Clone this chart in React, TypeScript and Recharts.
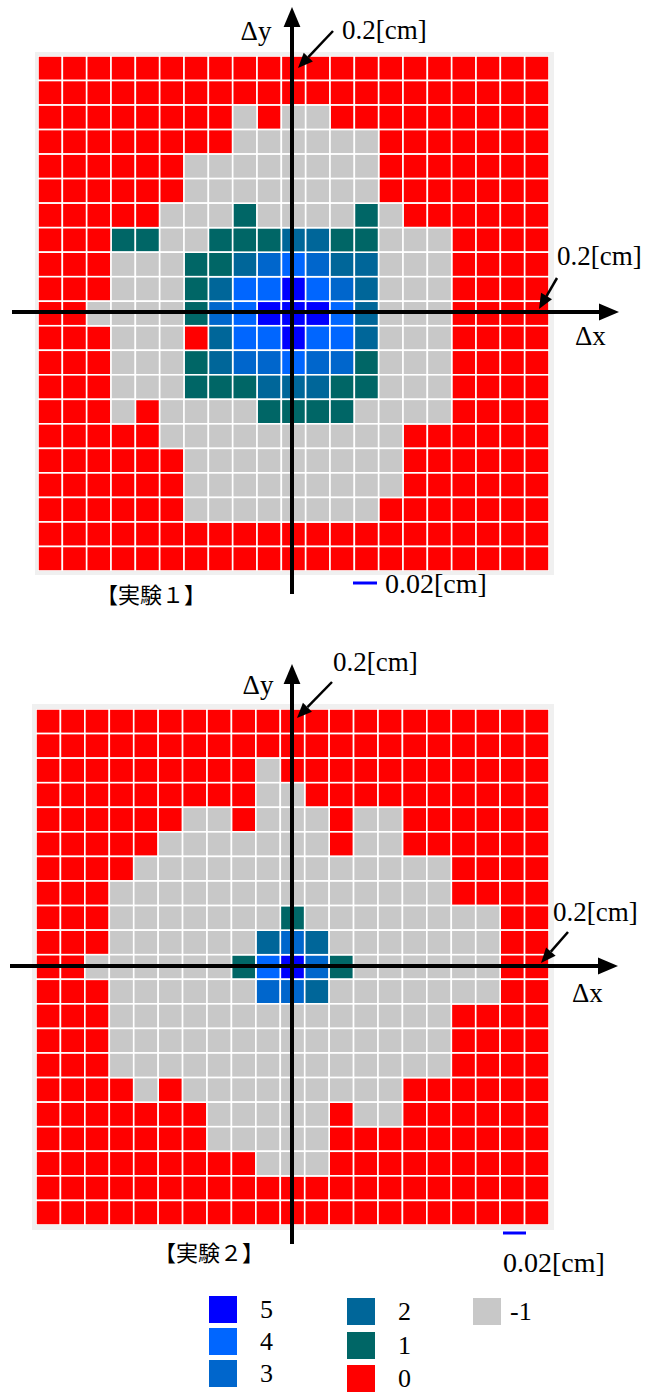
import React from 'react';
import { ScatterChart, Scatter, XAxis, YAxis } from 'recharts';

// value levels and their colours (legend order)
const LEVELS = [5, 4, 3, 2, 1, 0, -1];
const LEVEL_COLORS = ['#0000ff', '#0066ff', '#0066cc', '#006699', '#006666', '#ff0000', '#c8c8c8'];

// one string per grid row (top to bottom), one char per column; '-' means -1
const EXP1_ROWS = [
  '000000000000000000000',
  '000000000000000000000',
  '00000000-0--000000000',
  '00000000------0000000',
  '000000--------0000000',
  '000000--------0000000',
  '00000---1----1-000000',
  '00011--1112211---0000',
  '000---11234322---0000',
  '000---12445432---0000',
  '00----13455542---0000',
  '000---02445442---0000',
  '000---12334331---0000',
  '000---11122211---0000',
  '000-0----1111----0000',
  '00000----------000000',
  '000000---------000000',
  '000000---------000000',
  '000000--------0000000',
  '000000000000000000000',
  '000000000000000000000',
];

const EXP2_ROWS = [
  '000000000000000000000',
  '000000000000000000000',
  '000000000-00000000000',
  '000000000--0000000000',
  '000000--0---0--000000',
  '00000-------0--000000',
  '0000-------------0000',
  '000--------------0000',
  '000-------1--------00',
  '000------232-------00',
  '00------14531------00',
  '000------332-------00',
  '000--------------0000',
  '000--------------0000',
  '000--------------0000',
  '0000-0---------000000',
  '0000000-----0--000000',
  '0000000-----000000000',
  '000000000---000000000',
  '000000000000000000000',
  '000000000000000000000',
];

const SERIF = '"Liberation Serif", "Times New Roman", serif';
const CJK = '"Noto Sans CJK JP", sans-serif';

const toCells = (rows: string[]) =>
  rows.flatMap((row, y) =>
    row.split('').map((ch, x) => ({ x, y, v: ch === '-' ? -1 : Number(ch) }))
  );

interface PanelProps {
  rows: string[];
  top: number;
  height: number;
  margin: { top: number; right: number; bottom: number; left: number };
}

const GridPanel = ({ rows, top, height, margin }: PanelProps) => {
  const cells = toCells(rows);
  const nx = rows[0].length;
  const ny = rows.length;
  const cw = (652 - margin.left - margin.right) / nx;
  const chh = (height - margin.top - margin.bottom) / ny;
  const CellShape = (p: any) => (
    <rect
      x={p.cx - cw / 2}
      y={p.cy - chh / 2}
      width={cw}
      height={chh}
      fill={p.fill}
      stroke="#ffffff"
      strokeWidth={1.6}
    />
  );
  return (
    <div style={{ position: 'absolute', left: 0, top, width: 652, height }}>
      <ScatterChart width={652} height={height} margin={margin}>
        <XAxis type="number" dataKey="x" domain={[-0.5, nx - 0.5]} allowDataOverflow hide />
        <YAxis type="number" dataKey="y" domain={[-0.5, ny - 0.5]} allowDataOverflow reversed hide />
        {LEVELS.map((lv, i) => (
          <Scatter
            key={lv}
            name={String(lv)}
            data={cells.filter((c) => c.v === lv)}
            fill={LEVEL_COLORS[i]}
            shape={CellShape}
            isAnimationActive={false}
          />
        ))}
      </ScatterChart>
    </div>
  );
};

const Arrow = ({ x1, y1, x2, y2, w, head }: { x1: number; y1: number; x2: number; y2: number; w: number; head: number }) => {
  const a = Math.atan2(y2 - y1, x2 - x1);
  const bx = x2 - head * Math.cos(a);
  const by = y2 - head * Math.sin(a);
  const hw = head * 0.42;
  const px = -Math.sin(a) * hw;
  const py = Math.cos(a) * hw;
  return (
    <g>
      <line x1={x1} y1={y1} x2={bx} y2={by} stroke="#000" strokeWidth={w} />
      <polygon points={`${x2},${y2} ${bx + px},${by + py} ${bx - px},${by - py}`} fill="#000" />
    </g>
  );
};

const Label = ({ x, y, children, anchor = 'start', size = 27, font = SERIF }: any) => (
  <text x={x} y={y} fontSize={size} fontFamily={font} textAnchor={anchor} dominantBaseline="central" fill="#000">
    {children}
  </text>
);

// legend layout: [level index, x, y]
const LEGEND_POS: [number, number, number][] = [
  [0, 209, 1296],
  [1, 209, 1328],
  [2, 209, 1360],
  [3, 347, 1298],
  [4, 347, 1332],
  [5, 347, 1365],
  [6, 473, 1298],
];

export default function App() {
  return (
    <div style={{ position: 'absolute', left: 0, top: 0, width: 652, height: 1392, background: '#fff' }}>
      <div style={{ position: 'absolute', left: 35, top: 52, width: 519, height: 523, background: '#f0f0f0' }} />
      <div style={{ position: 'absolute', left: 32, top: 704, width: 522, height: 526, background: '#f0f0f0' }} />
      <GridPanel rows={EXP1_ROWS} top={0} height={640} margin={{ top: 56, left: 38, right: 103, bottom: 69 }} />
      <GridPanel rows={EXP2_ROWS} top={650} height={650} margin={{ top: 59, left: 36, right: 103, bottom: 75 }} />
      <svg width={652} height={1392} style={{ position: 'absolute', left: 0, top: 0, pointerEvents: 'none' }}>
        {/* experiment 1 */}
        <Arrow x1={292} y1={594} x2={292} y2={7} w={4} head={20} />
        <Arrow x1={12} y1={312} x2={619} y2={312} w={4} head={20} />
        <Arrow x1={333} y1={31} x2={298} y2={68} w={2.5} head={15} />
        <Arrow x1={557} y1={278} x2={539} y2={309} w={2.5} head={15} />
        <Label x={256} y={31} anchor="middle">Δy</Label>
        <Label x={342} y={30}>0.2[cm]</Label>
        <Label x={557} y={256}>0.2[cm]</Label>
        <Label x={575} y={336}>Δx</Label>
        <Label x={96} y={593} size={22} font={CJK}>【実験１】</Label>
        <line x1={353} y1={583} x2={377} y2={583} stroke="#0000ff" strokeWidth={3} />
        <Label x={385} y={583} size={28}>0.02[cm]</Label>
        {/* experiment 2 */}
        <Arrow x1={292} y1={1244} x2={292} y2={664} w={4} head={20} />
        <Arrow x1={10} y1={966} x2={618} y2={966} w={4} head={20} />
        <Arrow x1={332} y1={682} x2={297} y2={718} w={2.5} head={15} />
        <Arrow x1={568} y1={932} x2={541} y2={963} w={2.5} head={15} />
        <Label x={258} y={685} anchor="middle">Δy</Label>
        <Label x={333} y={662}>0.2[cm]</Label>
        <Label x={553} y={912}>0.2[cm]</Label>
        <Label x={572} y={993}>Δx</Label>
        <Label x={154} y={1251} size={22} font={CJK}>【実験２】</Label>
        <line x1={503} y1={1233} x2={526} y2={1233} stroke="#0000ff" strokeWidth={3} />
        <Label x={503} y={1262} size={28}>0.02[cm]</Label>
        {/* legend */}
        {LEGEND_POS.map(([i, x, y]) => (
          <g key={i}>
            <rect x={x} y={y} width={28} height={27} fill={LEVEL_COLORS[i]} />
            <Label x={x + (LEVELS[i] < 0 ? 37 : 51)} y={y + 13} size={26}>
              {String(LEVELS[i])}
            </Label>
          </g>
        ))}
      </svg>
    </div>
  );
}
